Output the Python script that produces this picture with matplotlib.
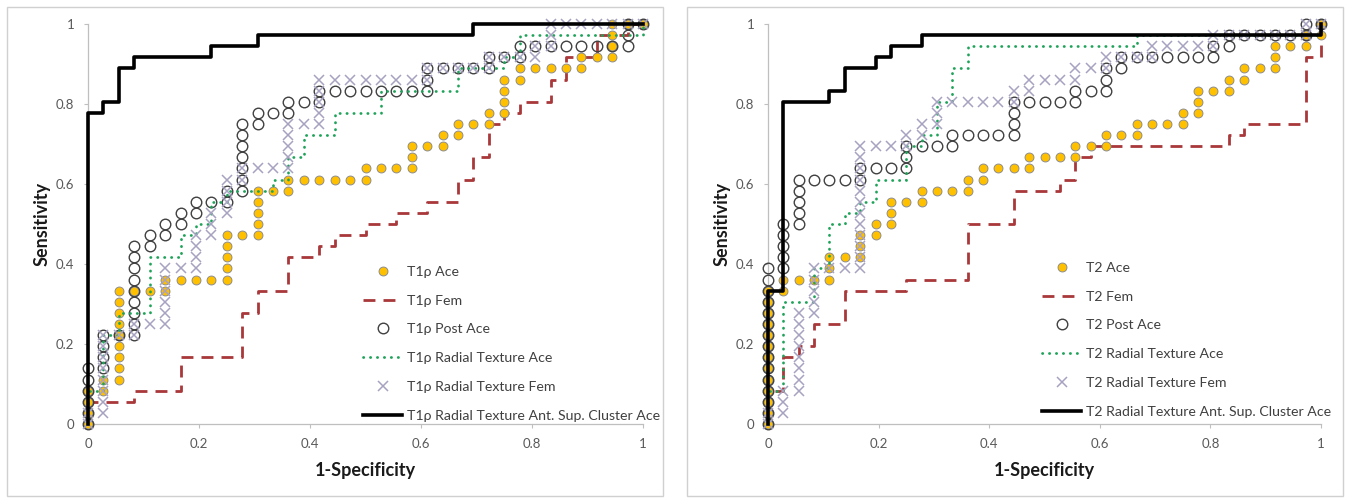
# Curvas ROC (T1rho e T2) - dois paineis lado a lado, estilo Excel
import matplotlib
matplotlib.use("Agg")
import matplotlib.pyplot as plt
from matplotlib.patches import Rectangle

plt.rcParams["font.family"] = ["Lato", "DejaVu Sans"]

# ----------------- dados -----------------
# Pontos lidos do grafico em contagens (FP, TP); cada passo da ROC = 1/36
N = 36

TICKS = [0, 0.2, 0.4, 0.6, 0.8, 1]
TICK_LABELS = ["0", "0.2", "0.4", "0.6", "0.8", "1"]

T1_LABELS = ["T1\u03c1 Ace", "T1\u03c1 Fem", "T1\u03c1 Post Ace",
             "T1\u03c1 Radial Texture Ace", "T1\u03c1 Radial Texture Fem",
             "T1\u03c1 Radial Texture Ant. Sup. Cluster Ace"]
T2_LABELS = ["T2 Ace", "T2 Fem", "T2 Post Ace",
             "T2 Radial Texture Ace", "T2 Radial Texture Fem",
             "T2 Radial Texture Ant. Sup. Cluster Ace"]

# --- T1rho ---
T1_ACE = [(0, 0), (0, 1), (0, 2), (0, 3), (1, 3), (1, 4),
          (2, 4), (2, 5), (2, 6), (2, 7), (2, 8), (2, 9), (2, 10), (2, 11), (2, 12),
          (3, 12), (4, 12), (5, 12), (5, 13), (6, 13), (7, 13), (8, 13),
          (9, 13), (9, 14), (9, 15), (9, 16), (9, 17), (10, 17),
          (11, 17), (11, 18), (11, 19), (11, 20), (11, 21), (12, 21),
          (13, 21), (13, 22), (14, 22), (15, 22), (16, 22), (17, 22),
          (18, 22), (18, 23), (19, 23), (20, 23), (21, 23), (21, 24), (21, 25),
          (22, 25), (23, 25), (23, 26), (24, 26), (24, 27), (25, 27),
          (26, 27), (26, 28), (27, 28), (27, 29), (27, 30), (27, 31),
          (28, 31), (28, 32), (29, 32), (30, 32), (31, 32), (32, 32),
          (32, 33), (33, 33), (34, 33), (34, 34), (34, 35), (34, 36),
          (35, 36), (36, 36)]

T1_FEM = [(0, 0), (0, 2), (3, 2), (3, 3), (6, 3), (6, 6), (10, 6), (10, 10),
          (11, 10), (11, 12), (13, 12), (13, 15), (15, 15), (15, 16),
          (16, 16), (16, 17), (18, 17), (18, 18), (20, 18), (20, 19),
          (22, 19), (22, 20), (24, 20), (24, 22), (25, 22), (25, 24),
          (26, 24), (26, 27), (27, 27), (27, 28), (28, 28), (28, 29),
          (30, 29), (30, 31), (31, 31), (31, 33), (33, 33), (33, 35),
          (35, 35), (35, 36), (36, 36)]

T1_POST = [(0, 0), (0, 1), (0, 2), (0, 3), (0, 4), (0, 5),
           (1, 5), (1, 6), (1, 7), (1, 8), (2, 8),
           (3, 8), (3, 9), (3, 10), (3, 11), (3, 12), (3, 13), (3, 14), (3, 15), (3, 16),
           (4, 16), (4, 17), (5, 17), (5, 18), (6, 18), (6, 19), (7, 19), (7, 20),
           (8, 20), (9, 20), (9, 21),
           (10, 21), (10, 22), (10, 23), (10, 24), (10, 25), (10, 26), (10, 27),
           (11, 27), (11, 28), (12, 28), (13, 28), (13, 29), (14, 29),
           (15, 29), (15, 30), (16, 30), (17, 30), (18, 30), (19, 30), (20, 30), (21, 30),
           (22, 30), (22, 31), (22, 32), (23, 32), (24, 32), (25, 32),
           (26, 32), (26, 33), (27, 33), (28, 33), (28, 34),
           (29, 34), (30, 34), (31, 34), (32, 34), (33, 34), (34, 34),
           (35, 34), (35, 35), (35, 36), (36, 36)]

T1_RT_ACE = [(0, 0), (0, 3), (1, 3), (1, 8), (2, 8), (2, 10), (4, 10), (4, 15),
             (6, 15), (6, 17), (7, 17), (7, 18), (8, 18), (8, 20), (9, 20),
             (9, 21), (12, 21), (12, 22), (13, 22), (13, 24), (14, 24),
             (14, 26), (16, 26), (16, 28), (19, 28), (19, 30), (24, 30),
             (24, 32), (27, 32), (27, 33), (28, 33), (28, 35), (36, 35), (36, 36)]

T1_RT_FEM = [(0, 0), (0, 1), (1, 1), (1, 2), (1, 3), (1, 4), (1, 5), (1, 6), (1, 7), (1, 8),
             (2, 8), (3, 8), (3, 9), (4, 9), (5, 9),
             (5, 10), (5, 11), (5, 12), (5, 13), (5, 14), (6, 14), (7, 14),
             (7, 15), (7, 16), (7, 17), (8, 17), (8, 18), (8, 19),
             (9, 19), (9, 20), (9, 21), (9, 22), (10, 22), (10, 23),
             (11, 23), (12, 23), (13, 23), (13, 24), (13, 25), (13, 26), (13, 27),
             (14, 27), (15, 27), (15, 28), (15, 29), (15, 30), (15, 31),
             (16, 31), (17, 31), (18, 31), (19, 31), (20, 31), (21, 31), (22, 31),
             (22, 32), (23, 32), (24, 32), (25, 32), (26, 32),
             (26, 33), (27, 33), (28, 33), (29, 33), (29, 34), (30, 34),
             (30, 35), (30, 36), (31, 36), (32, 36), (33, 36), (34, 36), (35, 36), (36, 36)]

T1_CLUSTER = [(0, 0), (0, 28), (1, 28), (1, 29), (2, 29), (2, 32), (3, 32), (3, 33),
              (8, 33), (8, 34), (11, 34), (11, 35), (25, 35), (25, 36), (36, 36)]

# --- T2 ---
T2_ACE = [(0, 0), (0, 1), (0, 2), (0, 3), (0, 4), (0, 5), (0, 6), (0, 7), (0, 8),
          (0, 9), (0, 10), (0, 11), (0, 12), (1, 12), (1, 13),
          (2, 13), (3, 13), (4, 13), (4, 14), (4, 15), (5, 15), (6, 15),
          (6, 16), (6, 17), (7, 17), (7, 18), (8, 18), (8, 19), (8, 20),
          (9, 20), (10, 20), (10, 21), (11, 21), (12, 21), (13, 21),
          (13, 22), (14, 22), (14, 23), (15, 23), (16, 23), (17, 23),
          (17, 24), (18, 24), (19, 24), (20, 24), (20, 25), (21, 25), (22, 25),
          (22, 26), (23, 26), (24, 26), (24, 27), (25, 27), (26, 27), (27, 27),
          (27, 28), (28, 28), (28, 29), (28, 30), (29, 30), (30, 30),
          (30, 31), (31, 31), (31, 32), (32, 32), (33, 32), (33, 33), (33, 34),
          (34, 34), (35, 34), (35, 35), (36, 35), (36, 36)]

T2_FEM = [(0, 0), (0, 3), (1, 3), (1, 6), (2, 6), (2, 7), (3, 7), (3, 9),
          (5, 9), (5, 12), (9, 12), (9, 13), (13, 13), (13, 18), (16, 18),
          (16, 21), (19, 21), (19, 22), (20, 22), (20, 24), (21, 24), (21, 25),
          (30, 25), (30, 26), (31, 26), (31, 27), (35, 27), (35, 33),
          (36, 33), (36, 36)]

T2_POST = [(0, 0), (0, 1), (0, 2), (0, 3), (0, 4), (0, 5), (0, 6), (0, 7), (0, 8),
           (0, 9), (0, 10), (0, 11), (0, 12), (0, 13), (0, 14),
           (1, 14), (1, 15), (1, 16), (1, 17), (1, 18),
           (2, 18), (2, 19), (2, 20), (2, 21), (2, 22),
           (3, 22), (4, 22), (5, 22), (6, 22), (6, 23), (7, 23), (8, 23),
           (9, 23), (9, 24), (9, 25), (10, 25), (11, 25), (12, 25), (12, 26),
           (13, 26), (14, 26), (15, 26), (16, 26), (16, 27), (16, 28), (16, 29),
           (17, 29), (18, 29), (19, 29), (20, 29), (20, 30), (21, 30),
           (22, 30), (22, 31), (22, 32), (23, 32), (23, 33),
           (24, 33), (25, 33), (26, 33), (27, 33), (28, 33), (29, 33), (29, 34),
           (30, 34), (30, 35), (31, 35), (32, 35), (33, 35), (34, 35),
           (35, 35), (35, 36), (36, 36)]

T2_RT_ACE = [(0, 0), (0, 3), (1, 3), (1, 11), (3, 11), (3, 14), (4, 14), (4, 18),
             (5, 18), (5, 19), (6, 19), (6, 20), (7, 20), (7, 22), (9, 22),
             (9, 25), (10, 25), (10, 26), (11, 26), (11, 29), (12, 29),
             (12, 32), (13, 32), (13, 34), (24, 34), (24, 35), (36, 35), (36, 36)]

T2_RT_FEM = [(0, 0), (0, 1), (1, 1), (1, 2), (1, 3),
             (2, 3), (2, 4), (2, 5), (2, 6), (2, 7), (2, 8), (2, 9), (2, 10),
             (3, 10), (3, 11), (3, 12), (3, 13), (3, 14), (4, 14), (5, 14),
             (6, 14), (6, 15), (6, 16), (6, 17), (6, 18), (6, 19), (6, 20),
             (6, 21), (6, 22), (6, 23), (6, 24), (6, 25), (7, 25), (8, 25),
             (9, 25), (9, 26), (10, 26), (10, 27), (11, 27), (11, 28), (11, 29),
             (12, 29), (13, 29), (14, 29), (15, 29), (16, 29), (16, 30),
             (17, 30), (17, 31), (18, 31), (19, 31), (20, 31), (20, 32),
             (21, 32), (22, 32), (22, 33), (23, 33), (24, 33), (25, 33),
             (25, 34), (26, 34), (27, 34), (28, 34), (29, 34), (29, 35),
             (30, 35), (31, 35), (32, 35), (33, 35), (34, 35), (35, 35),
             (35, 36), (36, 36)]

T2_CLUSTER = [(0, 0), (0, 12), (1, 12), (1, 29), (4, 29), (4, 30), (5, 30), (5, 32),
              (7, 32), (7, 33), (8, 33), (8, 34), (10, 34), (10, 35), (36, 35), (36, 36)]

# ----------------- estilo -----------------
YELLOW = "#FFC000"
RED = "#A8383A"
GREEN = "#1FA35A"
LAVENDER = "#A7A2C2"
CIRCLE = "#404040"
AXIS_GRAY = "#BFBFBF"
TEXT_GRAY = "#595959"

W, H = 1349, 498


def xy(points):
    xs = [p[0] / N for p in points]
    ys = [p[1] / N for p in points]
    return xs, ys


def draw_panel(ax, labels, ace, fem, post, rt_ace, rt_fem, cluster, leg_y):
    ax.plot(*xy(ace), ls="none", marker="o", ms=6.4, mfc=YELLOW, mec="#8C8C8C",
            mew=0.7, clip_on=False, zorder=3, label=labels[0])
    ax.plot(*xy(fem), color=RED, lw=2.0, ls=(0, (4.3, 2.9)), clip_on=False,
            zorder=2, label=labels[1])
    ax.plot(*xy(post), ls="none", marker="o", ms=7.6, mfc="none", mec=CIRCLE,
            mew=1.0, clip_on=False, zorder=4, label=labels[2])
    ax.plot(*xy(rt_ace), color=GREEN, lw=2.0, ls=(0, (0.1, 2.4)),
            dash_capstyle="round", clip_on=False, zorder=5, label=labels[3])
    ax.plot(*xy(rt_fem), ls="none", marker="x", ms=7.0, mec=LAVENDER, mew=1.1,
            clip_on=False, zorder=6, label=labels[4])
    ax.plot(*xy(cluster), color="black", lw=2.6, clip_on=False, zorder=7,
            label=labels[5])

    ax.set_xlim(0, 1)
    ax.set_ylim(0, 1)
    ax.set_xticks(TICKS)
    ax.set_xticklabels(TICK_LABELS)
    ax.set_yticks(TICKS)
    ax.set_yticklabels(TICK_LABELS)
    for s in ["top", "right"]:
        ax.spines[s].set_visible(False)
    for s in ["left", "bottom"]:
        ax.spines[s].set_color(AXIS_GRAY)
        ax.spines[s].set_linewidth(0.9)
    ax.tick_params(direction="out", length=3, width=0.8, color=AXIS_GRAY,
                   labelcolor=TEXT_GRAY, labelsize=9.5, pad=7)

    ax.set_xlabel("1-Specificity", fontsize=13, fontweight="bold", color="#1a1a1a")
    ax.set_ylabel("Sensitivity", fontsize=13, fontweight="bold", color="#1a1a1a")
    ax.xaxis.set_label_coords(0.5, -0.095)
    ax.yaxis.set_label_coords(-0.068, 0.5)

    leg = ax.legend(loc="upper left", bbox_to_anchor=(0.495, leg_y), frameon=False,
                    fontsize=10.2, handlelength=2.8, handletextpad=0.3,
                    labelspacing=1.18, borderpad=0, borderaxespad=0)
    for t in leg.get_texts():
        t.set_color("#404040")


fig = plt.figure(figsize=(W / 100, H / 100), dpi=100)
fig.patch.set_facecolor("white")

# molduras dos dois graficos
for x0, x1 in [(7, 663), (687, 1343)]:
    fig.add_artist(Rectangle((x0 / W, 2 / H), (x1 - x0) / W, (491 - 2) / H,
                             transform=fig.transFigure, fill=False,
                             edgecolor="#D0D0D0", lw=1.0))

ax1 = fig.add_axes([88 / W, 74 / H, 555 / W, 400 / H])
ax2 = fig.add_axes([768 / W, 74 / H, 553 / W, 400 / H])

draw_panel(ax1, T1_LABELS, T1_ACE, T1_FEM, T1_POST, T1_RT_ACE, T1_RT_FEM, T1_CLUSTER, 0.395)
draw_panel(ax2, T2_LABELS, T2_ACE, T2_FEM, T2_POST, T2_RT_ACE, T2_RT_FEM, T2_CLUSTER, 0.405)

fig.savefig("out.png", dpi=100, facecolor="white")
